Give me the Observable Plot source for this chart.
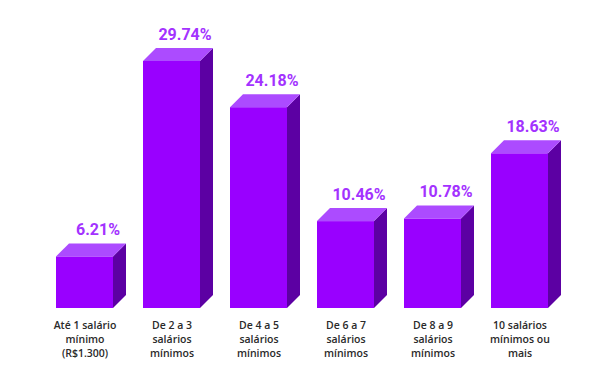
<!DOCTYPE html>
<html>
<head>
<meta charset="utf-8">
<script src="https://cdn.jsdelivr.net/npm/d3@7"></script>
<script src="https://cdn.jsdelivr.net/npm/@observablehq/plot@0.6"></script>
<style>
  html, body { margin: 0; padding: 0; background: #ffffff; }
  #chart svg { display: block; }
</style>
</head>
<body>
<div id="chart"></div>
<script>
const categories = ["c1", "c2", "c3", "c4", "c5", "c6"];
const categoryLabels = [
  "Até 1 salário\nmínimo\n(R$1.300)",
  "De 2 a 3\nsalários\nmínimos",
  "De 4 a 5\nsalários\nmínimos",
  "De 6 a 7\nsalários\nmínimos",
  "De 8 a 9\nsalários\nmínimos",
  "10 salários\nmínimos ou\nmais"
];
const values = [6.21, 29.74, 24.18, 10.46, 10.78, 18.63];

const data = categories.map((c, i) => ({cat: c, label: categoryLabels[i], value: values[i]}));

const FRONT = "#9900ff", TOP = "#ac4bff", SIDE = "#5c00a3", LABEL = "#a332ff";
const DEPTH = 13;

const chart = Plot.plot({
  width: 616,
  height: 379,
  marginTop: 9,
  marginBottom: 71,
  marginLeft: 41,
  marginRight: 53,
  style: {background: "#ffffff"},
  x: {domain: categories, paddingInner: 0.345, paddingOuter: 0.1725, axis: null},
  y: {domain: [0, 36], axis: null},
  marks: [
    Plot.barY(data, {x: "cat", y: "value", fill: FRONT}),
    Plot.text(data, {
      x: "cat", y: "value", text: d => d.value.toFixed(2) + "%",
      dx: 13, dy: -27, fill: LABEL, fontSize: 16, fontWeight: 700,
      fontFamily: "Roboto", textAnchor: "middle"
    }),
    Plot.text(data, {
      x: "cat", frameAnchor: "bottom", text: "label", dy: 11, lineAnchor: "top",
      fill: "#2a2a2a", fontSize: 10.5, fontWeight: 600, fontFamily: "Open Sans",
      lineHeight: 1.32
    })
  ]
});
document.getElementById("chart").appendChild(chart);

// 3D faces drawn from the same data through the plot's own scales
const sxo = chart.scale("x"), syo = chart.scale("y");
let xs, bw, ys;
if (sxo && typeof sxo.apply === "function") {
  xs = v => sxo.apply(v); bw = sxo.bandwidth;
} else {
  const b = d3.scaleBand().domain(sxo.domain).range(sxo.range)
    .paddingInner(sxo.paddingInner).paddingOuter(sxo.paddingOuter).align(sxo.align ?? 0.5);
  xs = v => b(v); bw = b.bandwidth();
}
if (syo && typeof syo.apply === "function") ys = v => syo.apply(v);
else { const l = d3.scaleLinear().domain(syo.domain).range(syo.range); ys = v => l(v); }

const svg = d3.select(chart);
const barGroup = chart.querySelector('g[aria-label="bar"]');
const g = svg.append("g").attr("aria-label", "bar-3d");
data.forEach(d => {
  const x0 = xs(d.cat), x1 = x0 + bw, yt = ys(d.value), yb = ys(0);
  g.append("polygon")
    .attr("points", [[x1, yt], [x1 + DEPTH, yt - DEPTH], [x1 + DEPTH, yb - DEPTH], [x1, yb]].map(p => p.join(",")).join(" "))
    .attr("fill", SIDE);
  g.append("polygon")
    .attr("points", [[x0, yt], [x0 + DEPTH, yt - DEPTH], [x1 + DEPTH, yt - DEPTH], [x1, yt]].map(p => p.join(",")).join(" "))
    .attr("fill", TOP);
});
if (barGroup) chart.insertBefore(g.node(), barGroup.nextSibling);
</script>
</body>
</html>
